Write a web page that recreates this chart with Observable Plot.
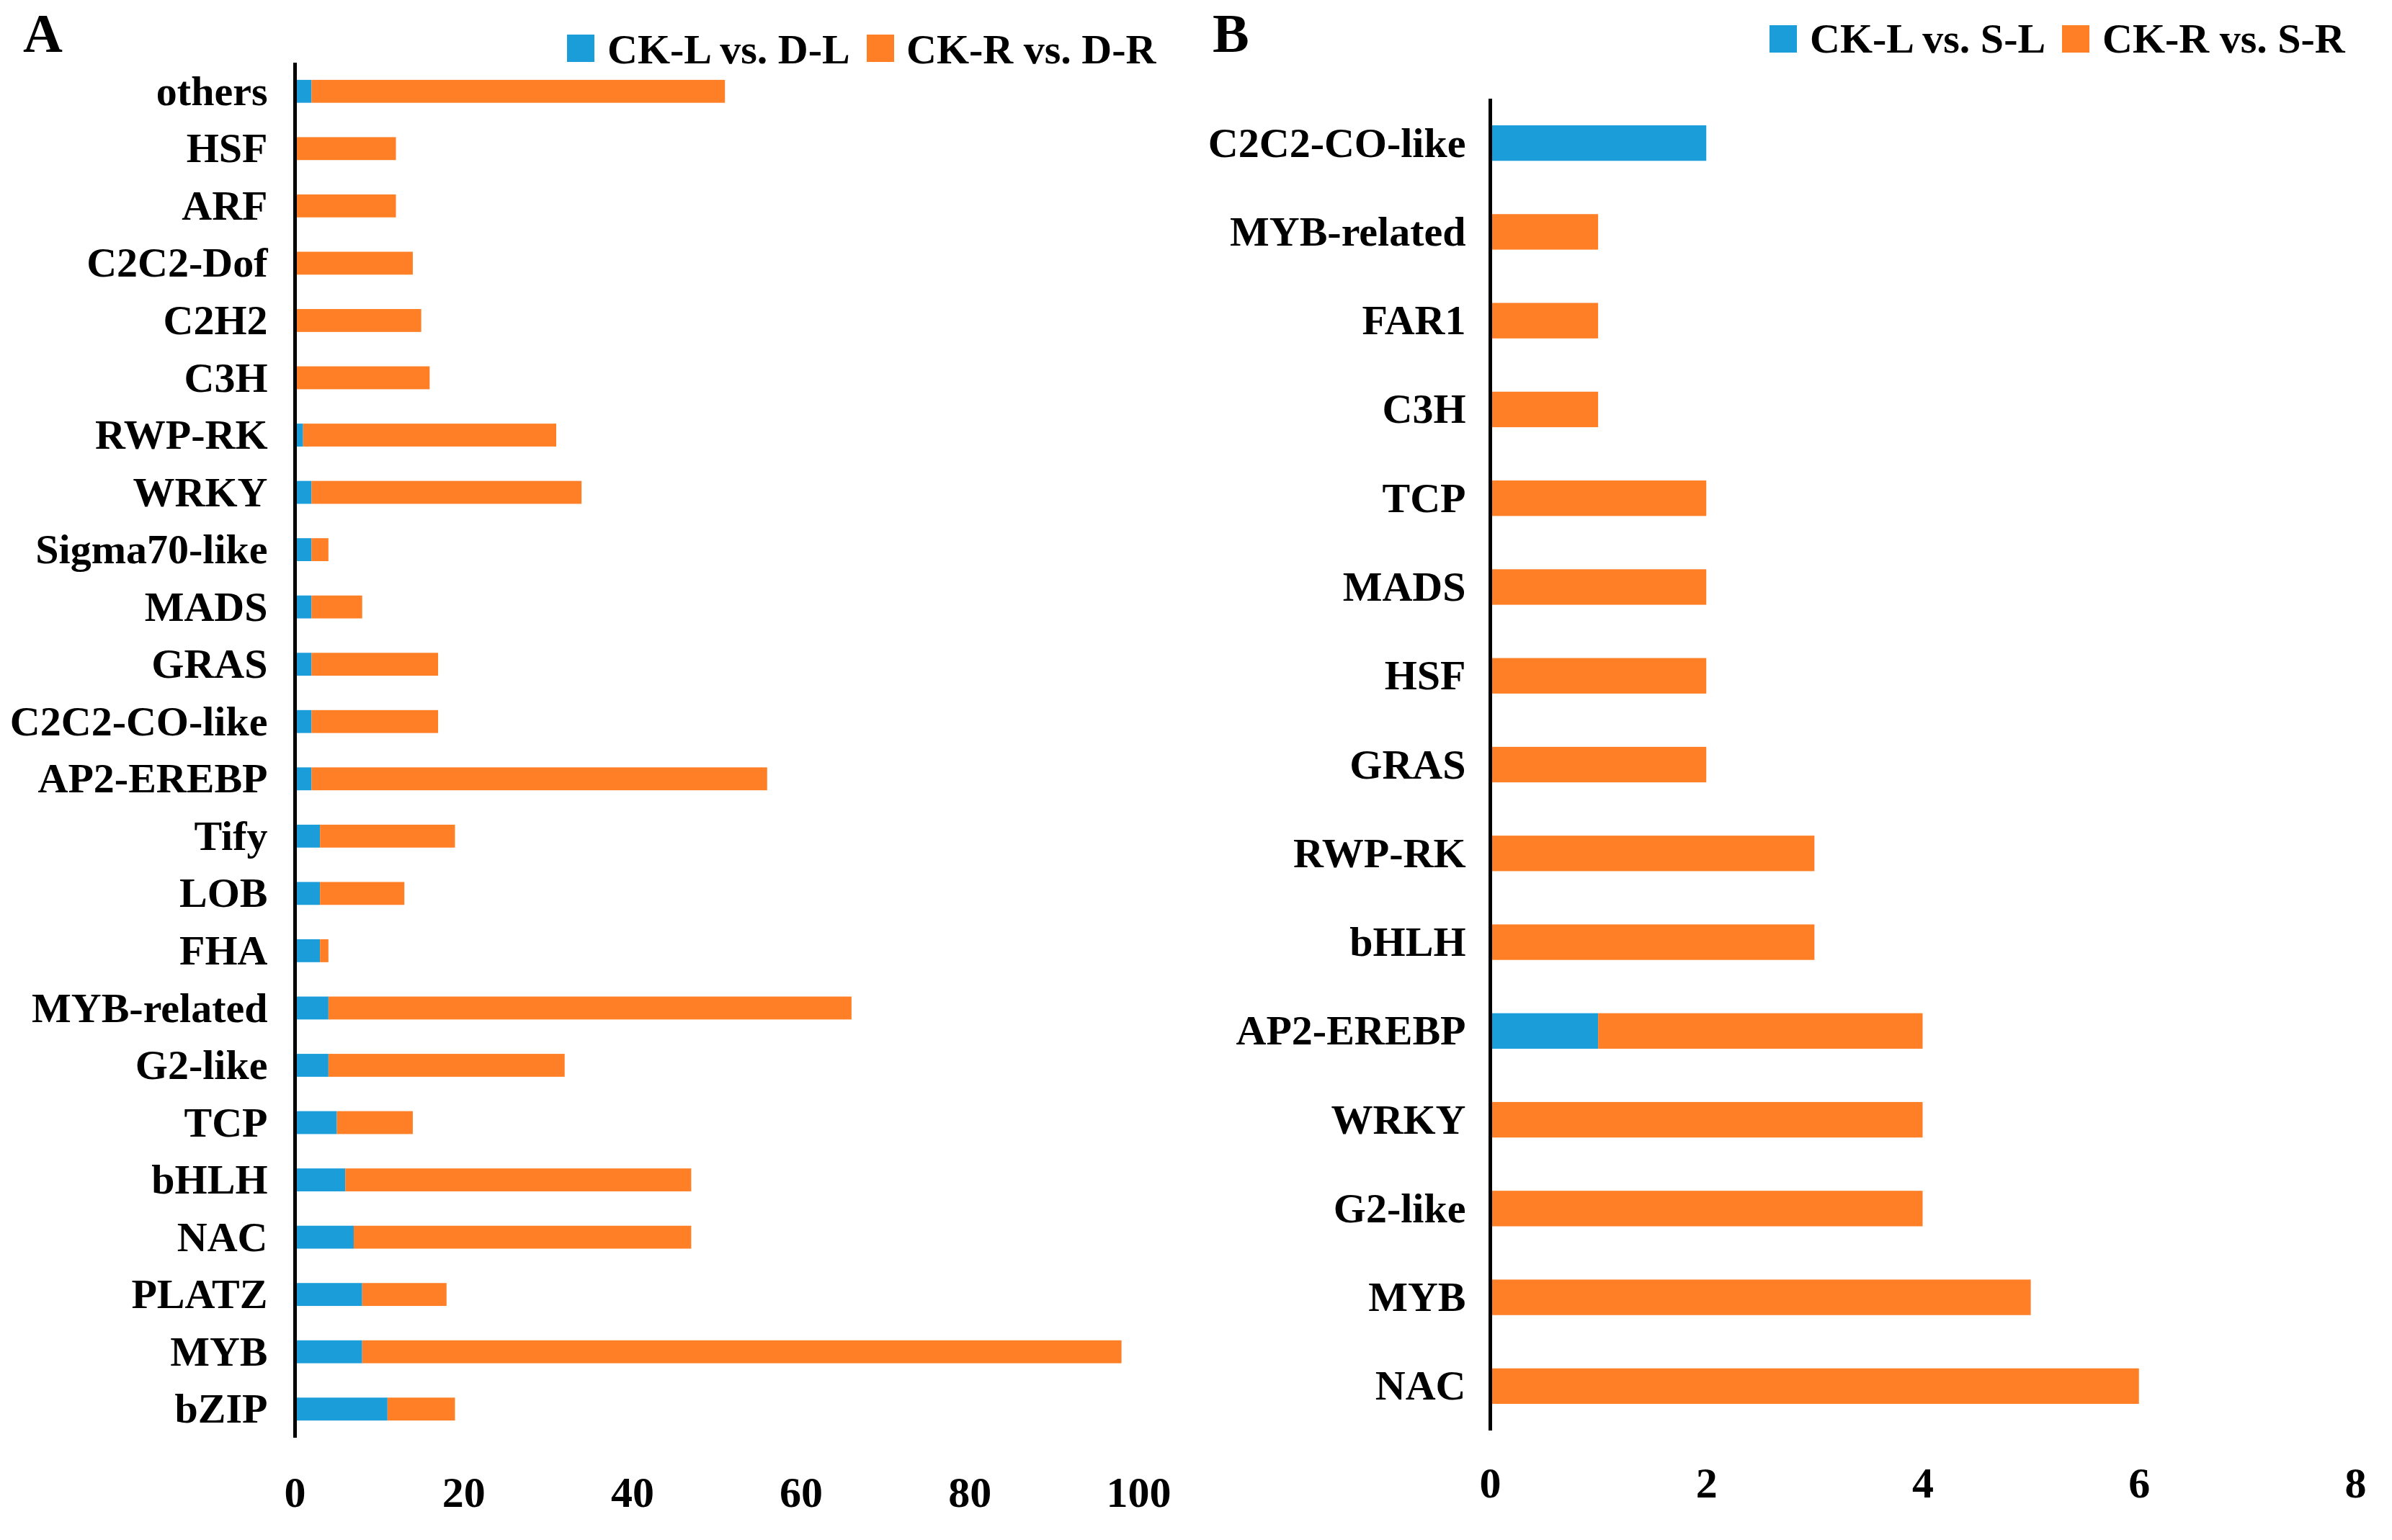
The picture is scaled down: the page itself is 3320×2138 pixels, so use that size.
<!DOCTYPE html>
<html>
<head>
<meta charset="utf-8">
<script src="https://cdn.jsdelivr.net/npm/d3@7"></script>
<script src="https://cdn.jsdelivr.net/npm/@observablehq/plot@0.6"></script>
<style>
  html, body { margin: 0; padding: 0; background: #fff; }
  #root { position: relative; width: 3320px; height: 2138px; background: #fff; overflow: hidden;
          font-family: "Liberation Serif", "Times New Roman", serif; font-weight: bold; color: #000; }
  .panel { position: absolute; top: 0; }
  .lbl { position: absolute; font-size: 76px; line-height: 1; }
  .leg { position: absolute; font-size: 58px; line-height: 1; white-space: nowrap; }
  .sw { position: absolute; width: 38px; height: 38px; }
</style>
</head>
<body>
<div id="root"></div>
<script>
// ---------- Data ----------
const catsA = ["others","HSF","ARF","C2C2-Dof","C2H2","C3H","RWP-RK","WRKY","Sigma70-like","MADS","GRAS","C2C2-CO-like","AP2-EREBP","Tify","LOB","FHA","MYB-related","G2-like","TCP","bHLH","NAC","PLATZ","MYB","bZIP"];
const leafA = [2,0,0,0,0,0,1,2,2,2,2,2,2,3,3,3,4,4,5,6,7,8,8,11];
const rootA = [49,12,12,14,15,16,30,32,2,6,15,15,54,16,10,1,62,28,9,41,40,10,90,8];
const seriesA = ["CK-L vs. D-L","CK-R vs. D-R"];
const ticksA = [0,20,40,60,80,100];

const catsB = ["C2C2-CO-like","MYB-related","FAR1","C3H","TCP","MADS","HSF","GRAS","RWP-RK","bHLH","AP2-EREBP","WRKY","G2-like","MYB","NAC"];
const leafB = [2,0,0,0,0,0,0,0,0,0,1,0,0,0,0];
const rootB = [0,1,1,1,2,2,2,2,3,3,3,4,4,5,6];
const seriesB = ["CK-L vs. S-L","CK-R vs. S-R"];
const ticksB = [0,2,4,6,8];

const colors = ["#1a9dd9","#ff7f27"];

// ---------- Build ----------
function tidy(cats, a, b, series) {
  const rows = [];
  cats.forEach((c,i) => rows.push({cat: c, series: series[0], value: a[i]}));
  cats.forEach((c,i) => rows.push({cat: c, series: series[1], value: b[i]}));
  return rows;
}

function panel(cats, a, b, series, ticks, xmax, m, padB, padL) {
  const data = tidy(cats, a, b, series);
  return Plot.plot({
    width: 1660,
    height: 2138,
    marginLeft: m.left, marginRight: m.right, marginTop: m.top, marginBottom: m.bottom,
    style: {fontFamily: '"Liberation Serif", "Times New Roman", serif', fontSize: "58px", fontWeight: "bold", color: "#000", background: "transparent", overflow: "visible"},
    x: {domain: [0, xmax]},
    y: {domain: cats, paddingInner: 0.6, paddingOuter: 0.3, round: false},
    color: {domain: series, range: colors},
    marks: [
      Plot.barX(data, {x: "value", y: "cat", fill: "series"}),
      Plot.ruleX([0], {stroke: "#000", strokeWidth: 5}),
      Plot.axisX({ticks: ticks, tickSize: 0, tickPadding: padB, label: null, fill: "#000", fontSize: 60}),
      Plot.axisY({tickSize: 0, tickPadding: padL, label: null, fill: "#000"})
    ]
  });
}

const root = document.getElementById("root");

const pA = document.createElement("div"); pA.className = "panel"; pA.style.left = "0px";
pA.appendChild(panel(catsA, leafA, rootA, seriesA, ticksA, 100, {left: 409, right: 80, top: 87, bottom: 142}, 53, 38));
root.appendChild(pA);

const pB = document.createElement("div"); pB.className = "panel"; pB.style.left = "1660px";
pB.appendChild(panel(catsB, leafB, rootB, seriesB, ticksB, 8, {left: 408, right: 51, top: 137, bottom: 152}, 50, 34));
root.appendChild(pB);

function addText(cls, txt, left, top) {
  const d = document.createElement("div"); d.className = cls; d.textContent = txt;
  d.style.left = left + "px"; d.style.top = top + "px"; root.appendChild(d);
  return d;
}
function addSwatch(color, left, top) {
  const d = document.createElement("div"); d.className = "sw"; d.style.background = color;
  d.style.left = left + "px"; d.style.top = top + "px"; root.appendChild(d);
}

addText("lbl", "A", 32, 8);
addText("lbl", "B", 1683, 8);

addSwatch(colors[0], 787, 48); addText("leg", seriesA[0], 843, 40);
addSwatch(colors[1], 1203, 48); addText("leg", seriesA[1], 1258, 40);

addSwatch(colors[0], 2456, 35); addText("leg", seriesB[0], 2512, 25);
addSwatch(colors[1], 2862, 35); addText("leg", seriesB[1], 2918, 25);
</script>
</body>
</html>
